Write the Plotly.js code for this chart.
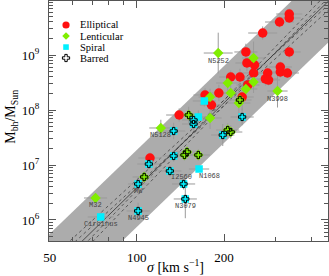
<!DOCTYPE html>
<html><head><meta charset="utf-8">
<script src="https://cdn.plot.ly/plotly-3.0.1.min.js"></script>
<style>html,body{margin:0;padding:0;background:#fff}</style>
</head><body><div id="chart" style="width:329px;height:276px"></div>
<script>
// ---------- data ----------
// Ellipticals
const ellSigma = [336,336,311,272,238,336,240,255,313,313,331,253,283,278,285,211,227,242,192,172,231,181,140,111];
const ellLogM  = [9.745,9.673,9.600,9.400,9.055,9.055,8.855,8.818,8.782,8.691,8.673,8.673,8.673,8.564,8.545,8.600,8.600,8.455,8.309,8.273,8.236,8.091,7.909,7.127];
const ellBar   = [0,0,0,0,0,0,0,0,0,0,0,0,0,0,0,0,0,0,0,0,0,0,0,0];
const ellESig  = [0.045,0.04,0.05,0.05,0.04,0.04,0.04,0.045,0.04,0.04,0.04,0.045,0.04,0.04,0.04,0.04,0.04,0.04,0.045,0.04,0.04,0.04,0.045,0.04];
const ellELogM = [0.10,0.08,0.10,0.12,0.15,0.12,0.15,0.10,0.10,0.10,0.08,0.15,0.10,0.12,0.10,0.12,0.15,0.10,0.15,0.12,0.25,0.15,0.12,0.10];
const ellName  = ['','','','','','','','','','','','','','','','','','','','','','','',''];
// Lenticulars
const lenSigma = [191,253,206,253,238,211,306,179,225,179,121,72,227,151,206,211,146,149,163,106];
const lenLogM  = [9.036,8.945,8.491,8.509,8.382,8.309,8.345,8.236,8.127,7.855,7.673,6.400,8.182,7.909,7.636,7.600,7.182,7.236,7.182,6.782];
const lenBar   = [0,0,0,0,0,0,0,0,0,0,0,0,1,1,1,1,1,1,1,1];
const lenESig  = [0.05,0.04,0.04,0.04,0.04,0.04,0.035,0.04,0.04,0.04,0.04,0.04,0.04,0.04,0.04,0.04,0.04,0.04,0.04,0.04];
const lenELogM = [0.37,0.30,0.15,0.20,0.15,0.15,0.30,0.15,0.30,0.20,0.15,0.08,0.12,0.15,0.12,0.12,0.10,0.10,0.10,0.10];
const lenName  = ['N5252','','','','','','N3998','','','','N5128','M32','','','','','','','',''];
// Spirals
const spiSigma = [171,163,164,75,157,157,231,134,198,134,130,145,147,110,101,101];
const spiLogM  = [8.164,7.873,6.927,6.055,7.818,7.745,7.873,7.618,7.545,7.164,6.891,6.655,6.382,7.018,6.655,6.164];
const spiBar   = [0,0,0,0,1,1,1,1,1,1,1,1,1,1,1,1];
const spiESig  = [0.04,0.04,0.035,0.045,0.04,0.04,0.04,0.04,0.04,0.04,0.04,0.04,0.04,0.04,0.035,0.04];
const spiELogM = [0.10,0.12,0.05,0.08,0.12,0.12,0.15,0.15,0.20,0.10,0.10,0.10,0.35,0.10,0.06,0.15];
const spiName  = ['','','N1068','Circinus','','','','','','','I2560','','N3079','','MW','N4945'];
// Fit relation and scatter band
const fitA = 8.13, fitB = 5.13, fitEA = 0.05, fitEB = 0.32, bandHalf = 0.70, bandA = 8.10, bandB = 5.07;
const lineSigma = [40, 520];
// Tick labels
const xTickVals = [50,100,200];
const xTickText = ['50','100','200'];
const xMinorVals = [60,70,80,90,300,400];
const yTickVals = [1e6,1e7,1e8,1e9];
const yTickText = ['10<sup>6</sup>','10<sup>7</sup>','10<sup>8</sup>','10<sup>9</sup>'];
const legendNames = ['Elliptical','Lenticular','Spiral','Barred'];

// ---------- build ----------
const SERIF = 'Liberation Serif, Times New Roman, serif';
const RED = '#ff1010', GREEN = '#80ee00', CYAN = '#00f0ff';
const pow = v => Math.pow(10, v);
function rel(a, b, s) { return s.map(x => pow(a + b * Math.log10(x / 200))); }
function plusE(v, e) { return v.map((x, i) => x * (pow(e[i]) - 1)); }
function minusE(v, e) { return v.map((x, i) => x * (1 - pow(-e[i]))); }

const traces = [];
// band
const bandUp = rel(bandA + bandHalf, bandB, lineSigma);
const bandLo = rel(bandA - bandHalf, bandB, lineSigma);
traces.push({x: lineSigma.concat(lineSigma.slice().reverse()), y: bandUp.concat(bandLo.slice().reverse()),
  fill: 'toself', fillcolor: '#acacac', mode: 'lines', line: {width: 0}, hoverinfo: 'skip', showlegend: false});
// dashed uncertainty lines
[[fitEA, fitEB], [fitEA, -fitEB], [-fitEA, fitEB], [-fitEA, -fitEB]].forEach(d => {
  traces.push({x: lineSigma, y: rel(fitA + d[0], fitB + d[1], lineSigma), mode: 'lines',
    line: {color: '#333', width: 0.7, dash: '3px,3px'}, showlegend: false, hoverinfo: 'skip'});
});
traces.push({x: lineSigma, y: rel(fitA, fitB, lineSigma), mode: 'lines',
  line: {color: '#333', width: 0.8}, showlegend: false, hoverinfo: 'skip'});

const groups = [
  {s: ellSigma, l: ellLogM, b: ellBar, es: ellESig, el: ellELogM, n: ellName, sym: 'circle', size: 9.5, color: RED},
  {s: lenSigma, l: lenLogM, b: lenBar, es: lenESig, el: lenELogM, n: lenName, sym: 'diamond', size: 8, color: GREEN},
  {s: spiSigma, l: spiLogM, b: spiBar, es: spiESig, el: spiELogM, n: spiName, sym: 'square', size: 7.5, color: CYAN}
];
// error bars
groups.forEach(g => {
  const m = g.l.map(pow);
  traces.push({x: g.s, y: m, mode: 'markers', marker: {size: 1, opacity: 0}, showlegend: false, hoverinfo: 'skip',
    error_x: {type: 'data', symmetric: false, array: plusE(g.s, g.es), arrayminus: minusE(g.s, g.es), color: '#9a9a9a', thickness: 1, width: 0},
    error_y: {type: 'data', symmetric: false, array: plusE(m, g.el), arrayminus: minusE(m, g.el), color: '#9a9a9a', thickness: 1, width: 0}});
});
// markers
groups.forEach(g => {
  traces.push({x: g.s, y: g.l.map(pow), mode: 'markers', showlegend: false,
    marker: {symbol: g.sym, size: g.size, color: g.color, line: {width: 0}}});
});
// barred overlay
const bx = [], by = [];
groups.forEach(g => g.b.forEach((f, i) => { if (f) { bx.push(g.s[i]); by.push(pow(g.l[i])); } }));
traces.push({x: bx, y: by, mode: 'markers', showlegend: false,
  marker: {symbol: 'cross-open', size: 6, color: '#000', line: {width: 1, color: '#000'}}});

// legend: symbols as pixel-sized shapes anchored in paper coords
const legX = 0.061;
const legY = [0.90, 0.854, 0.808, 0.7625];
const pix = (ax, ay) => ({xref: 'paper', yref: 'paper', xsizemode: 'pixel', ysizemode: 'pixel', xanchor: ax, yanchor: ay});
const shapes = [
  Object.assign(pix(legX, legY[0]), {type: 'circle', x0: -3.6, x1: 3.6, y0: -3.6, y1: 3.6, fillcolor: RED, line: {width: 0}}),
  Object.assign(pix(legX, legY[1]), {type: 'path', path: 'M -3.8 0 L 0 3.8 L 3.8 0 L 0 -3.8 Z', fillcolor: GREEN, line: {width: 0}}),
  Object.assign(pix(legX, legY[2]), {type: 'rect', x0: -2.8, x1: 2.8, y0: -2.8, y1: 2.8, fillcolor: CYAN, line: {width: 0}}),
  Object.assign(pix(legX, legY[3]), {type: 'path',
    path: 'M -1.2 -3.6 L 1.2 -3.6 L 1.2 -1.2 L 3.6 -1.2 L 3.6 1.2 L 1.2 1.2 L 1.2 3.6 L -1.2 3.6 L -1.2 1.2 L -3.6 1.2 L -3.6 -1.2 L -1.2 -1.2 Z',
    fillcolor: 'rgba(0,0,0,0)', line: {width: 1, color: '#000'}})
];

const annotations = [];
legendNames.forEach((t, i) => annotations.push({xref: 'paper', yref: 'paper', x: 0.104, y: legY[i], text: '<span>' + t + '</span>',
  showarrow: false, xanchor: 'left', yanchor: 'middle', font: {family: SERIF, size: 10.5, color: '#000'}}));
// galaxy labels
const labShift = {'N1068': [10, -7], 'I2560': [12, -6]};
groups.forEach(g => g.n.forEach((t, i) => {
  if (!t) return;
  const sh = labShift[t] || [0, -7.5];
  annotations.push({x: Math.log10(g.s[i]), y: g.l[i], text: '<span>' + t + '</span>', showarrow: false, xshift: sh[0], yshift: sh[1],
    xanchor: 'center', yanchor: 'middle', font: {family: 'Liberation Mono, monospace', size: 7, color: '#444'}});
}));
// axis titles
annotations.push({xref: 'paper', yref: 'paper', x: 0.455, y: -0.104, xanchor: 'center', yanchor: 'middle', showarrow: false,
  text: '<i>σ</i> [km s<sup>−1</sup>]', font: {family: SERIF, size: 14, color: '#000'}});
annotations.push({xref: 'paper', yref: 'paper', x: -0.133, y: 0.517, xanchor: 'center', yanchor: 'middle', showarrow: false,
  textangle: -90, text: 'M<sub>bh</sub>/M<sub>Sun</sub>', font: {family: SERIF, size: 14, color: '#000'}});

const minorY = [];
[5, 6, 7, 8, 9].forEach(d => [2,3,4,5,6,7,8,9].forEach(k => minorY.push(k * pow(d))));
const axCommon = {type: 'log', ticks: 'inside', ticklen: 7, tickcolor: '#555', tickwidth: 1, mirror: 'allticks',
  showline: true, linecolor: '#555', linewidth: 1, showgrid: false, zeroline: false,
  tickfont: {family: SERIF, size: 13, color: '#000'}};
const layout = {
  width: 329, height: 276, margin: {l: 49, r: 1, t: 1, b: 35}, paper_bgcolor: '#fff', plot_bgcolor: '#fff',
  showlegend: false,
  xaxis: Object.assign({}, axCommon, {range: [1.6965, 2.6602], tickmode: 'array', tickvals: xTickVals, ticktext: xTickText,
    ticklabelstandoff: 4, minor: {tickmode: 'array', tickvals: xMinorVals, ticks: 'inside', ticklen: 4, tickcolor: '#555'}}),
  yaxis: Object.assign({}, axCommon, {range: [5.618, 9.982], tickmode: 'array', tickvals: yTickVals, ticktext: yTickText,
    ticklabelstandoff: 6, minor: {tickmode: 'array', tickvals: minorY, ticks: 'inside', ticklen: 4, tickcolor: '#555'}}),
  shapes: shapes,
  annotations: annotations
};
Plotly.newPlot('chart', traces, layout, {staticPlot: true, displayModeBar: false});
</script></body></html>
